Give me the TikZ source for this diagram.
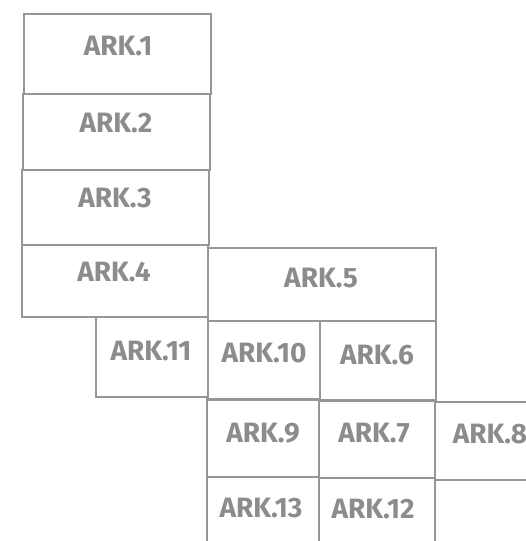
\documentclass[tikz,border=0pt]{standalone}
\usepackage{fontspec}
\setmainfont{Fira Sans}
\definecolor{inkgray}{RGB}{150,150,150}
\definecolor{textgray}{RGB}{140,140,140}
\tikzset{
  cell/.style={draw=inkgray, line width=1.3pt, rectangle, inner sep=0pt, outer sep=0pt},
  lbl/.style={text=textgray, font=\fontsize{28}{28}\selectfont\bfseries, inner sep=0pt}
}
\begin{document}
\begin{tikzpicture}[x=1pt,y=-1pt]
\useasboundingbox (0,0) rectangle (526,541);
\fill[white] (0,0) rectangle (526,541);
\clip (0,0) rectangle (526,541);
% cells: (left,top) rectangle (right,bottom)
\newcommand{\cellnode}[5]{%
  \node[cell, minimum width={#4-#2}, minimum height={#5-#3}] (#1) at ({(#2+#4)/2},{(#3+#5)/2}) {};}
\cellnode{c1}{24}{14}{211}{94}
\cellnode{c2}{23}{94}{210}{170}
\cellnode{c3}{22}{170}{209}{245}
\cellnode{c4}{22}{245}{208}{317}
\cellnode{c5}{208}{248}{436}{321}
\cellnode{c11}{96}{317}{208}{397}
\cellnode{c10}{208}{321}{320}{400}
\cellnode{c6}{320}{321}{436}{401}
\cellnode{c9}{207}{399}{319}{477}
\cellnode{c7}{319}{400}{435}{478}
\cellnode{c8}{435}{402}{560}{480}
\cellnode{c13}{207}{477}{319}{570}
\cellnode{c12}{319}{478}{435}{570}
% labels
\node[lbl] (t1) at (118,46) {ARK.1};
\node[lbl] (t2) at (116,123) {ARK.2};
\node[lbl] (t3) at (115,198) {ARK.3};
\node[lbl] (t4) at (114,272) {ARK.4};
\node[lbl] (t5) at (321,278) {ARK.5};
\node[lbl] (t11) at (151,351) {ARK.11};
\node[lbl] (t10) at (264,353) {ARK.10};
\node[lbl] (t6) at (377,355) {ARK.6};
\node[lbl] (t9) at (263,433) {ARK.9};
\node[lbl] (t7) at (374,433) {ARK.7};
\node[lbl] (t8) at (490,434) {ARK.8};
\node[lbl] (t13) at (261,508) {ARK.13};
\node[lbl] (t12) at (373,509) {ARK.12};
\end{tikzpicture}
\end{document}
